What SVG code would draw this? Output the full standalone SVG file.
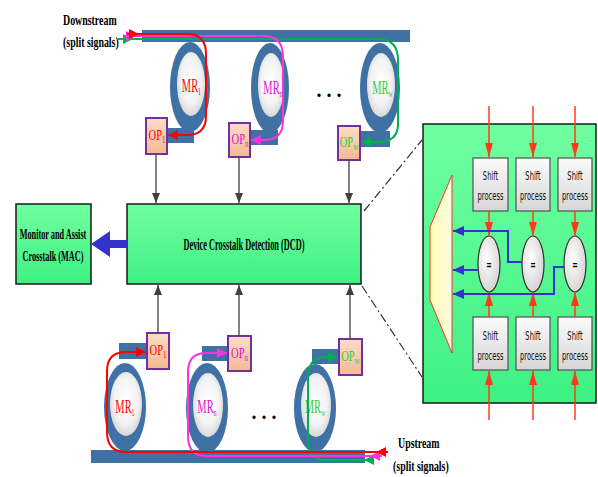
<svg xmlns="http://www.w3.org/2000/svg" width="598" height="477" viewBox="0 0 598 477">
<defs>
<linearGradient id="gGreen" x1="0" y1="0" x2="0" y2="1"><stop offset="0" stop-color="#70ffa0"/><stop offset="1" stop-color="#3ef183"/></linearGradient>
<linearGradient id="gOp" x1="0" y1="0" x2="0" y2="1"><stop offset="0" stop-color="#fcdcc6"/><stop offset="1" stop-color="#f3b995"/></linearGradient>
<linearGradient id="gShift" x1="0" y1="0" x2="0" y2="1"><stop offset="0" stop-color="#fbfbfb"/><stop offset="1" stop-color="#d6d6d6"/></linearGradient>
<linearGradient id="gTrap" x1="0" y1="0" x2="1" y2="0"><stop offset="0" stop-color="#ffffb4"/><stop offset="1" stop-color="#fffbe0"/></linearGradient>
<radialGradient id="gRing" cx="0.5" cy="0.45" r="0.6"><stop offset="0" stop-color="#ffffff"/><stop offset="0.6" stop-color="#f3f3f3"/><stop offset="1" stop-color="#d0d0d0"/></radialGradient>
<radialGradient id="gEq" cx="0.4" cy="0.4" r="0.7"><stop offset="0" stop-color="#ffffff"/><stop offset="1" stop-color="#cfcfcf"/></radialGradient>
<marker id="aGray" markerUnits="userSpaceOnUse" markerWidth="10" markerHeight="8" refX="10" refY="4" orient="auto"><path d="M0,0 L10,4 L0,8 z" fill="#404040"/></marker>
<marker id="aRed" markerUnits="userSpaceOnUse" markerWidth="10" markerHeight="10" refX="10" refY="5" orient="auto"><path d="M0,0 L10,5 L0,10 z" fill="#ff0000"/></marker>
<marker id="aMag" markerUnits="userSpaceOnUse" markerWidth="10" markerHeight="10" refX="10" refY="5" orient="auto"><path d="M0,0 L10,5 L0,10 z" fill="#ff33dd"/></marker>
<marker id="aGrn" markerUnits="userSpaceOnUse" markerWidth="10" markerHeight="10" refX="10" refY="5" orient="auto"><path d="M0,0 L10,5 L0,10 z" fill="#00b050"/></marker>
<marker id="aOr" markerUnits="userSpaceOnUse" markerWidth="14" markerHeight="8" refX="14" refY="4" orient="auto"><path d="M0,0 L14,4 L0,8 z" fill="#ff3a1a"/></marker>
<marker id="aBlue" markerUnits="userSpaceOnUse" markerWidth="11" markerHeight="10" refX="11" refY="5" orient="auto"><path d="M0,0 L11,5 L0,10 z" fill="#3333cc"/></marker>
</defs>
<style>
.wg{fill:#3f71a5}
.inner{fill:url(#gRing)}
.op{fill:url(#gOp);stroke:#7030a0;stroke-width:2}
.green{fill:url(#gGreen);stroke:#1a1a1a;stroke-width:1.5}
.shift{fill:url(#gShift);stroke:#505050;stroke-width:1.2}
.eq{fill:url(#gEq);stroke:#303030;stroke-width:1.2}
.gray{fill:none;stroke:#404040;stroke-width:1.3;marker-end:url(#aGray)}
.orange{fill:none;stroke:#ff3a1a;stroke-width:1.5;marker-end:url(#aOr)}
.blue{fill:none;stroke:#3333cc;stroke-width:2;marker-end:url(#aBlue)}
.sig{fill:none;stroke-width:2}
.dd{fill:none;stroke:#333;stroke-width:1.2;stroke-dasharray:9 3 2 3}
.lbl{font-family:"Liberation Serif","Times New Roman",serif;font-weight:bold;fill:#000}
.mr{font-family:"Liberation Serif","Times New Roman",serif;font-size:19px;text-anchor:middle}
.opt{font-family:"Liberation Serif","Times New Roman",serif;font-size:15px;text-anchor:middle}
.sp{font-family:"DejaVu Sans","Liberation Sans",sans-serif;font-size:12px;text-anchor:middle;fill:#111}
.eqt{font-family:"DejaVu Sans","Liberation Sans",sans-serif;font-size:12px;font-weight:bold;text-anchor:middle}
.dots{font-family:"Liberation Serif",serif;font-size:20px;font-weight:bold;text-anchor:middle}
</style>

<!-- waveguides -->
<g id="waveguide-top"><rect class="wg" x="142" y="30" width="268" height="12"/></g>
<g id="waveguide-bottom"><rect class="wg" x="91" y="450" width="274" height="13"/></g>

<!-- top rings -->
<g id="ring-top-1">
<rect class="wg" x="163" y="128" width="31" height="15"/>
<ellipse class="wg" cx="190" cy="87" rx="20" ry="45"/>
<ellipse class="inner" cx="191" cy="84" rx="14" ry="32"/>
<text class="mr" transform="translate(191.5,92) scale(0.55,1)" fill="#ff0000">MR<tspan font-size="11" dy="3">1</tspan></text>
</g>
<g id="ring-top-n">
<rect class="wg" x="248" y="130" width="30" height="15"/>
<ellipse class="wg" cx="270" cy="88" rx="19" ry="45"/>
<ellipse class="inner" cx="271" cy="85" rx="13" ry="32"/>
<text class="mr" transform="translate(273,94) scale(0.55,1)" fill="#e010d0">MR<tspan font-size="11" dy="3">n</tspan></text>
</g>
<g id="ring-top-w">
<rect class="wg" x="358" y="131" width="32" height="16"/>
<ellipse class="wg" cx="380" cy="88" rx="20" ry="45"/>
<ellipse class="inner" cx="381" cy="85" rx="14" ry="32"/>
<text class="mr" transform="translate(382.5,94) scale(0.55,1)" fill="#33cc33">MR<tspan font-size="11" dy="3">w</tspan></text>
</g>
<text class="dots" x="329" y="97">. . .</text>

<!-- bottom rings -->
<g id="ring-bottom-1">
<rect class="wg" x="119" y="343" width="30" height="16"/>
<ellipse class="wg" cx="125" cy="407" rx="21" ry="44"/>
<ellipse class="inner" cx="126" cy="404" rx="16" ry="32"/>
<text class="mr" transform="translate(125,413) scale(0.55,1)" fill="#ff0000">MR<tspan font-size="11" dy="3">1</tspan></text>
</g>
<g id="ring-bottom-n">
<rect class="wg" x="202" y="346" width="28" height="15"/>
<ellipse class="wg" cx="207" cy="408" rx="21" ry="45"/>
<ellipse class="inner" cx="208" cy="405" rx="15" ry="32"/>
<text class="mr" transform="translate(207,413) scale(0.55,1)" fill="#e010d0">MR<tspan font-size="11" dy="3">n</tspan></text>
</g>
<g id="ring-bottom-w">
<rect class="wg" x="312" y="349" width="28" height="15"/>
<ellipse class="wg" cx="315" cy="408" rx="21" ry="44"/>
<ellipse class="inner" cx="316" cy="405" rx="15" ry="32"/>
<text class="mr" transform="translate(315,413) scale(0.55,1)" fill="#33cc33">MR<tspan font-size="11" dy="3">w</tspan></text>
</g>
<text class="dots" x="264" y="419">. . .</text>

<!-- OP boxes -->
<g id="op-top-1"><rect class="op" x="146" y="118" width="21" height="36"/><text class="opt" transform="translate(157,140) scale(0.7,1)" fill="#ff0000">OP<tspan font-size="10" dy="3">1</tspan></text></g>
<g id="op-top-n"><rect class="op" x="229" y="123" width="21" height="34"/><text class="opt" transform="translate(240,144) scale(0.7,1)" fill="#e010d0">OP<tspan font-size="10" dy="3">n</tspan></text></g>
<g id="op-top-w"><rect class="op" x="338" y="126" width="22" height="34"/><text class="opt" transform="translate(349,147) scale(0.7,1)" fill="#33cc33">OP<tspan font-size="10" dy="3">w</tspan></text></g>
<g id="op-bottom-1"><rect class="op" x="147" y="333" width="22" height="36"/><text class="opt" transform="translate(158,355) scale(0.7,1)" fill="#ff0000">OP<tspan font-size="10" dy="3">1</tspan></text></g>
<g id="op-bottom-n"><rect class="op" x="228" y="336" width="23" height="35"/><text class="opt" transform="translate(239.5,358) scale(0.7,1)" fill="#e010d0">OP<tspan font-size="10" dy="3">n</tspan></text></g>
<g id="op-bottom-w"><rect class="op" x="339" y="339" width="23" height="36"/><text class="opt" transform="translate(350.5,361) scale(0.7,1)" fill="#33cc33">OP<tspan font-size="10" dy="3">w</tspan></text></g>

<!-- DCD and MAC -->
<g id="dcd"><rect class="green" x="127" y="204" width="234" height="80"/>
<text class="lbl" transform="translate(244,250) scale(0.52,1)" font-size="16" text-anchor="middle">Device Crosstalk Detection (DCD)</text></g>
<g id="mac"><rect class="green" x="16" y="204" width="75" height="80"/>
<text class="lbl" transform="translate(53,239) scale(0.55,1)" font-size="15" text-anchor="middle">Monitor and Assist</text>
<text class="lbl" transform="translate(53,261) scale(0.55,1)" font-size="15" text-anchor="middle">Crosstalk (MAC)</text></g>

<!-- labels -->
<g id="label-downstream">
<text class="lbl" transform="translate(63,25) scale(0.66,1)" font-size="15">Downstream</text>
<text class="lbl" transform="translate(63,47) scale(0.66,1)" font-size="15">(split signals)</text>
</g>
<g id="label-upstream">
<text class="lbl" transform="translate(398,448) scale(0.66,1)" font-size="15">Upstream</text>
<text class="lbl" transform="translate(393,471) scale(0.66,1)" font-size="15">(split signals)</text>
</g>

<!-- right panel -->
<g id="panel"><rect class="green" x="423" y="124" width="173" height="279"/></g>
<g id="mux"><polygon points="452,175 430,227 430,300 452,353" fill="url(#gTrap)" stroke="#ff3030" stroke-width="1"/></g>
<g id="shift-t1"><rect class="shift" x="473" y="158" width="35" height="53"/><text class="sp" transform="translate(490.5,180) scale(0.56,1)">Shift</text><text class="sp" transform="translate(490.5,200) scale(0.56,1)">process</text></g>
<g id="shift-t2"><rect class="shift" x="516" y="158" width="34" height="53"/><text class="sp" transform="translate(533,180) scale(0.56,1)">Shift</text><text class="sp" transform="translate(533,200) scale(0.56,1)">process</text></g>
<g id="shift-t3"><rect class="shift" x="558" y="158" width="34" height="53"/><text class="sp" transform="translate(575,180) scale(0.56,1)">Shift</text><text class="sp" transform="translate(575,200) scale(0.56,1)">process</text></g>
<g id="shift-b1"><rect class="shift" x="473" y="317" width="35" height="53"/><text class="sp" transform="translate(490.5,340) scale(0.56,1)">Shift</text><text class="sp" transform="translate(490.5,360) scale(0.56,1)">process</text></g>
<g id="shift-b2"><rect class="shift" x="516" y="317" width="34" height="53"/><text class="sp" transform="translate(533,340) scale(0.56,1)">Shift</text><text class="sp" transform="translate(533,360) scale(0.56,1)">process</text></g>
<g id="shift-b3"><rect class="shift" x="558" y="317" width="34" height="53"/><text class="sp" transform="translate(575,340) scale(0.56,1)">Shift</text><text class="sp" transform="translate(575,360) scale(0.56,1)">process</text></g>
<g id="eq-1"><ellipse class="eq" cx="489" cy="264" rx="11" ry="28"/><text class="eqt" transform="translate(489,269) scale(0.55,1)">=</text></g>
<g id="eq-2"><ellipse class="eq" cx="533" cy="264" rx="11" ry="28"/><text class="eqt" transform="translate(533,269) scale(0.55,1)">=</text></g>
<g id="eq-3"><ellipse class="eq" cx="575" cy="264" rx="11" ry="28"/><text class="eqt" transform="translate(575,269) scale(0.55,1)">=</text></g>

<!-- connectors -->
<g id="connectors">
<path class="gray" d="M156,154 V203"/>
<path class="gray" d="M239,157 V203"/>
<path class="gray" d="M349,160 V203"/>
<path class="gray" d="M158,333 V285"/>
<path class="gray" d="M239,336 V285"/>
<path class="gray" d="M350,339 V285"/>
<polygon points="127,240 110,240 110,231 91,244 110,257 110,248 127,248" fill="#3333cc"/>
<path class="dd" d="M364,211 L422,140"/>
<path class="dd" d="M362,286 L422,377"/>

<!-- downstream signals -->
<path class="sig" stroke="#00b050" d="M118,39 H378 Q398,39 398,60 V124 Q398,142 378,142 H361" marker-end="url(#aGrn)"/>
<path class="sig" stroke="#ff33dd" d="M124,36 H264 Q283,36 283,57 V121 Q283,140 264,140 H251" marker-end="url(#aMag)"/>
<path class="sig" stroke="#ff0000" d="M127,34 H187 Q206,34 206,54 V116 Q206,135 187,135 H168" marker-end="url(#aRed)"/>
<path class="sig" stroke="#00b050" d="M118,39 H133" marker-end="url(#aGrn)"/>
<path class="sig" stroke="#ff33dd" d="M124,36 H136" marker-end="url(#aMag)"/>
<path class="sig" stroke="#ff0000" d="M127,34 H139" marker-end="url(#aRed)"/>

<!-- upstream signals -->
<path class="sig" stroke="#00b050" d="M374,460 H326 Q308,460 308,440 V377 Q308,357 326,357 H338" marker-end="url(#aGrn)"/>
<path class="sig" stroke="#ff33dd" d="M382,456 H206 Q188,456 188,436 V372 Q188,353 206,353 H227" marker-end="url(#aMag)"/>
<path class="sig" stroke="#ff0000" d="M388,452 H126 Q107,452 107,432 V371 Q107,352 126,352 H146" marker-end="url(#aRed)"/>
<path class="sig" stroke="#00b050" d="M374,460 H364" marker-end="url(#aGrn)"/>
<path class="sig" stroke="#ff33dd" d="M382,456 H370" marker-end="url(#aMag)"/>
<path class="sig" stroke="#ff0000" d="M388,452 H376" marker-end="url(#aRed)"/>

<!-- panel arrows -->
<path class="orange" d="M489,106 V157"/>
<path class="orange" d="M533,106 V157"/>
<path class="orange" d="M575,106 V157"/>
<path class="orange" d="M489,211 V236"/>
<path class="orange" d="M533,211 V236"/>
<path class="orange" d="M575,211 V236"/>
<path class="orange" d="M489,317 V292"/>
<path class="orange" d="M533,317 V292"/>
<path class="orange" d="M575,317 V292"/>
<path class="orange" d="M489,420 V371"/>
<path class="orange" d="M533,420 V371"/>
<path class="orange" d="M575,420 V371"/>
<path class="blue" d="M522,262 H508 V231 H453"/>
<path class="blue" d="M478,270 H453"/>
<path class="blue" d="M564,267 H554 V294 H453"/>
</g>
</svg>
